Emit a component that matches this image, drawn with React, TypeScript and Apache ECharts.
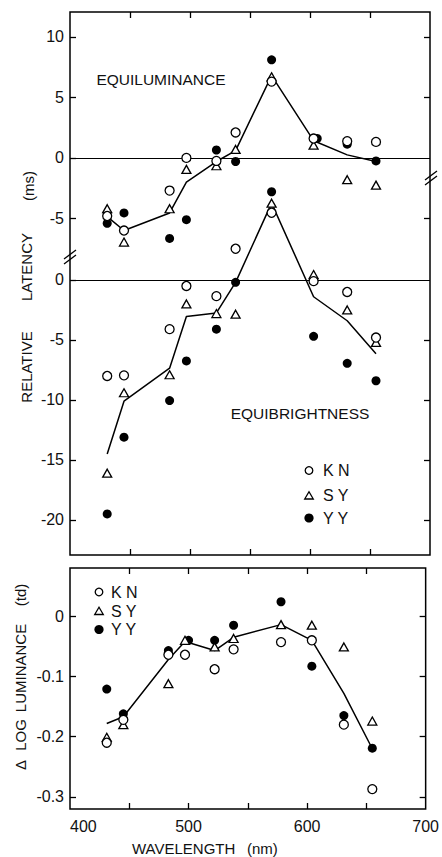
import React, { useEffect, useRef } from "react";
import * as echarts from "echarts";

// ---- data ----
const wavelengthsUpper = [431, 445, 483, 497, 522, 538, 568, 603, 631, 655];
const wavelengthsUpperYY = [431, 445, 483, 497, 522, 538, 568, 606, 631, 655];
const wavelengthsLower = [431, 445, 483, 497, 522, 538, 578, 604, 631, 655];
const wavelengthsLowerYY = [431, 445, 483, 500, 522, 538, 578, 604, 631, 655];

// Equiluminance (relative latency, ms)
const equilumKN = [-4.8, -6.0, -2.7, 0.0, -0.25, 2.1, 6.3, 1.6, 1.38, 1.32];
const equilumSY = [-4.2, -6.95, -4.2, -0.95, -0.65, 0.7, 6.7, 1.05, -1.8, -2.25];
const equilumYY = [-5.4, -4.55, -6.65, -5.1, 0.65, -0.3, 8.1, 1.6, 1.13, -0.25];
const equilumMean = [-4.85, -6.0, -4.55, -2.0, -0.3, 0.6, 6.8, 1.42, 0.25, -0.3];

// Equibrightness (relative latency, ms)
const equibrKN = [-8.0, -7.95, -4.1, -0.5, -1.35, 2.6, 5.6, -0.1, -1.0, -4.8];
const equibrSY = [-16.1, -9.4, -7.9, -2.0, -2.8, -2.85, 6.4, 0.45, -2.5, -5.2];
const equibrYY = [-19.5, -13.1, -10.05, -6.75, -4.1, -0.2, 7.35, -4.7, -6.95, -8.4];
const equibrMean = [-14.5, -10.1, -7.35, -3.05, -2.75, -0.2, 6.4, -1.4, -3.4, -6.15];

// Delta log luminance (td)
const lumKN = [-0.21, -0.172, -0.064, -0.064, -0.088, -0.055, -0.043, -0.04, -0.18, -0.287];
const lumSY = [-0.201, -0.18, -0.112, -0.04, -0.051, -0.037, -0.014, -0.015, -0.051, -0.174];
const lumYY = [-0.121, -0.162, -0.057, -0.04, -0.04, -0.015, 0.024, -0.083, -0.165, -0.219];
const lumMean = [-0.178, -0.167, -0.072, -0.042, -0.057, -0.035, -0.014, -0.04, -0.128, -0.22];

const upperTicks = [10, 5, 0, -5];
const middleTicks = [0, -5, -10, -15, -20];
const lowerTicks = [0, -0.1, -0.2, -0.3];
const xTickValues = [450, 500, 550, 600, 650];
const xLabelValues = [400, 500, 600, 700];

const FONT = "'Liberation Sans', Arial, Helvetica, sans-serif";
const INK = "#111";

const pair = (xs: number[], ys: number[]) => xs.map((x, i) => [x, ys[i]]);

const openCircle = (name: string, data: number[][], xi: number, yi: number) => ({
  type: "scatter",
  name,
  xAxisIndex: xi,
  yAxisIndex: yi,
  data,
  symbol: "circle",
  symbolSize: 9,
  itemStyle: { color: "#fff", borderColor: "#000", borderWidth: 1.3, opacity: 1 },
  z: 5,
  silent: true,
});
const openTriangle = (name: string, data: number[][], xi: number, yi: number) => ({
  type: "scatter",
  name,
  xAxisIndex: xi,
  yAxisIndex: yi,
  data,
  symbol: "triangle",
  symbolSize: [9, 8],
  itemStyle: { color: "#fff", borderColor: "#000", borderWidth: 1.3, opacity: 1 },
  z: 4,
  silent: true,
});
const filledCircle = (name: string, data: number[][], xi: number, yi: number) => ({
  type: "scatter",
  name,
  xAxisIndex: xi,
  yAxisIndex: yi,
  data,
  symbol: "circle",
  symbolSize: 9,
  itemStyle: { color: "#000", opacity: 1 },
  z: 3,
  silent: true,
});
const meanLine = (name: string, data: number[][], xi: number, yi: number, zero: boolean) => ({
  type: "line",
  name,
  xAxisIndex: xi,
  yAxisIndex: yi,
  data,
  symbol: "none",
  lineStyle: { color: "#000", width: 1.5 },
  z: 2,
  silent: true,
  markLine: zero
    ? {
        silent: true,
        symbol: ["none", "none"],
        label: { show: false },
        lineStyle: { color: "#000", width: 1.2, type: "solid" },
        data: [{ yAxis: 0 }],
        z: 1,
      }
    : undefined,
});

const xAxisDef = (gridIndex: number, position: string, labels: boolean) => ({
  type: "value",
  gridIndex,
  position,
  min: 400,
  max: 700,
  axisLine: { show: false, onZero: false },
  splitLine: { show: false },
  axisTick: {
    show: true,
    inside: true,
    length: 6,
    lineStyle: { color: "#000", width: 1.3 },
    customValues: xTickValues,
  },
  axisLabel: labels
    ? {
        show: true,
        customValues: xLabelValues,
        fontSize: 16,
        color: INK,
        fontFamily: FONT,
        margin: 9,
        alignMinLabel: "left",
      }
    : { show: false },
});

const yAxisDef = (
  gridIndex: number,
  position: string,
  min: number,
  max: number,
  ticks: number[],
  labels: number[] | null
) => ({
  type: "value",
  gridIndex,
  position,
  min,
  max,
  axisLine: { show: false, onZero: false },
  splitLine: { show: false },
  axisTick: {
    show: true,
    inside: true,
    length: 6,
    lineStyle: { color: "#000", width: 1.3 },
    customValues: ticks,
  },
  axisLabel: labels
    ? {
        show: true,
        customValues: labels,
        fontSize: 16,
        color: INK,
        fontFamily: FONT,
        margin: 6,
      }
    : { show: false },
});

const TOP_MIN = -32.8;
const TOP_MAX = 12.05;
const MID_MIN = -22.92;
const MID_MAX = 22.33;
const LOW_MIN = -0.32;
const LOW_MAX = 0.08;

const txt = (text: string, x: number, y: number, size: number, opts: any = {}) => ({
  type: "text",
  x,
  y,
  rotation: opts.rotation || 0,
  silent: true,
  z: 10,
  style: {
    text,
    fontSize: size,
    fontFamily: FONT,
    fill: INK,
    textAlign: opts.align || "center",
    align: opts.align || "center",
    textVerticalAlign: "middle",
    verticalAlign: "middle",
  },
});

const legendItems = (cx: number, tx: number, ys: number[]) => {
  const [y1, y2, y3] = ys;
  return [
    {
      type: "circle",
      shape: { cx, cy: y1, r: 3.8 },
      style: { fill: "#fff", stroke: "#000", lineWidth: 1.3 },
      silent: true,
      z: 10,
    },
    {
      type: "polygon",
      shape: {
        points: [
          [cx - 4.3, y2 + 3.5],
          [cx + 4.3, y2 + 3.5],
          [cx, y2 - 3.8],
        ],
      },
      style: { fill: "#fff", stroke: "#000", lineWidth: 1.3 },
      silent: true,
      z: 10,
    },
    {
      type: "circle",
      shape: { cx, cy: y3, r: 4.6 },
      style: { fill: "#000" },
      silent: true,
      z: 10,
    },
    txt("K N", tx, y1, 16, { align: "left" }),
    txt("S Y", tx, y2, 16, { align: "left" }),
    txt("Y Y", tx, y3, 16, { align: "left" }),
  ];
};

const breakMark = (cx: number, cy: number) => [
  {
    type: "line",
    shape: { x1: cx - 6, y1: cy + 2, x2: cx + 6, y2: cy - 7 },
    style: { stroke: "#000", lineWidth: 1.3 },
    silent: true,
    z: 10,
  },
  {
    type: "line",
    shape: { x1: cx - 6, y1: cy + 7, x2: cx + 6, y2: cy - 2 },
    style: { stroke: "#000", lineWidth: 1.3 },
    silent: true,
    z: 10,
  },
];

export default function App() {
  const ref = useRef<HTMLDivElement>(null);
  useEffect(() => {
    if (!ref.current) return;
    const chart = echarts.init(ref.current, null, { renderer: "svg" });
    const option: any = {
      animation: false,
      backgroundColor: "#fff",
      grid: [
        { left: 70, top: 12, width: 360, height: 543, show: true, borderColor: "#000", borderWidth: 1.5 },
        { left: 70, top: 568, width: 360, height: 241, show: true, borderColor: "#000", borderWidth: 1.5 },
      ],
      xAxis: [
        xAxisDef(0, "bottom", false),
        xAxisDef(0, "top", false),
        xAxisDef(1, "bottom", true),
        xAxisDef(1, "top", false),
      ],
      yAxis: [
        yAxisDef(0, "left", TOP_MIN, TOP_MAX, upperTicks, upperTicks),
        yAxisDef(0, "left", MID_MIN, MID_MAX, middleTicks, middleTicks),
        yAxisDef(0, "right", TOP_MIN, TOP_MAX, [10, 5, -5], null),
        yAxisDef(0, "right", MID_MIN, MID_MAX, [-5, -10, -15, -20], null),
        yAxisDef(1, "left", LOW_MIN, LOW_MAX, lowerTicks, lowerTicks),
        yAxisDef(1, "right", LOW_MIN, LOW_MAX, lowerTicks, null),
      ],
      series: [
        // Equiluminance
        meanLine("Equiluminance mean", pair(wavelengthsUpper, equilumMean), 0, 0, true),
        filledCircle("YY", pair(wavelengthsUpperYY, equilumYY), 0, 0),
        openTriangle("SY", pair(wavelengthsUpper, equilumSY), 0, 0),
        openCircle("KN", pair(wavelengthsUpper, equilumKN), 0, 0),
        // Equibrightness
        meanLine("Equibrightness mean", pair(wavelengthsUpper, equibrMean), 0, 1, true),
        filledCircle("YY", pair(wavelengthsUpper, equibrYY), 0, 1),
        openTriangle("SY", pair(wavelengthsUpper, equibrSY), 0, 1),
        openCircle("KN", pair(wavelengthsUpper, equibrKN), 0, 1),
        // Delta log luminance
        meanLine("Luminance mean", pair(wavelengthsLower, lumMean), 2, 4, false),
        filledCircle("YY", pair(wavelengthsLowerYY, lumYY), 2, 4),
        openTriangle("SY", pair(wavelengthsLower, lumSY), 2, 4),
        openCircle("KN", pair(wavelengthsLower, lumKN), 2, 4),
      ],
      graphic: [
        txt("EQUILUMINANCE", 161, 79, 15.5),
        txt("EQUIBRIGHTNESS", 300, 413, 15.5),
        txt("RELATIVE", 26, 367, 15, { rotation: Math.PI / 2 }),
        txt("LATENCY", 26, 267, 15, { rotation: Math.PI / 2 }),
        txt("(ms)", 28, 186, 15, { rotation: Math.PI / 2 }),
        txt("Δ", 20, 765, 15, { rotation: Math.PI / 2 }),
        txt("LOG", 20, 735, 15, { rotation: Math.PI / 2 }),
        txt("LUMINANCE", 20, 668, 15, { rotation: Math.PI / 2 }),
        txt("(td)", 20, 595, 15, { rotation: Math.PI / 2 }),
        txt("WAVELENGTH", 132, 848, 15, { align: "left" }),
        txt("(nm)", 247, 848, 15, { align: "left" }),
        ...legendItems(309, 323, [470.5, 495.5, 518]),
        ...legendItems(99, 111, [592, 611, 629.5]),
        ...breakMark(70, 257),
        ...breakMark(431, 178),
      ],
    };
    chart.setOption(option);
    return () => chart.dispose();
  }, []);
  return (
    <div
      ref={ref}
      style={{ position: "absolute", left: 0, top: 0, width: 442, height: 857, background: "#fff" }}
    />
  );
}
